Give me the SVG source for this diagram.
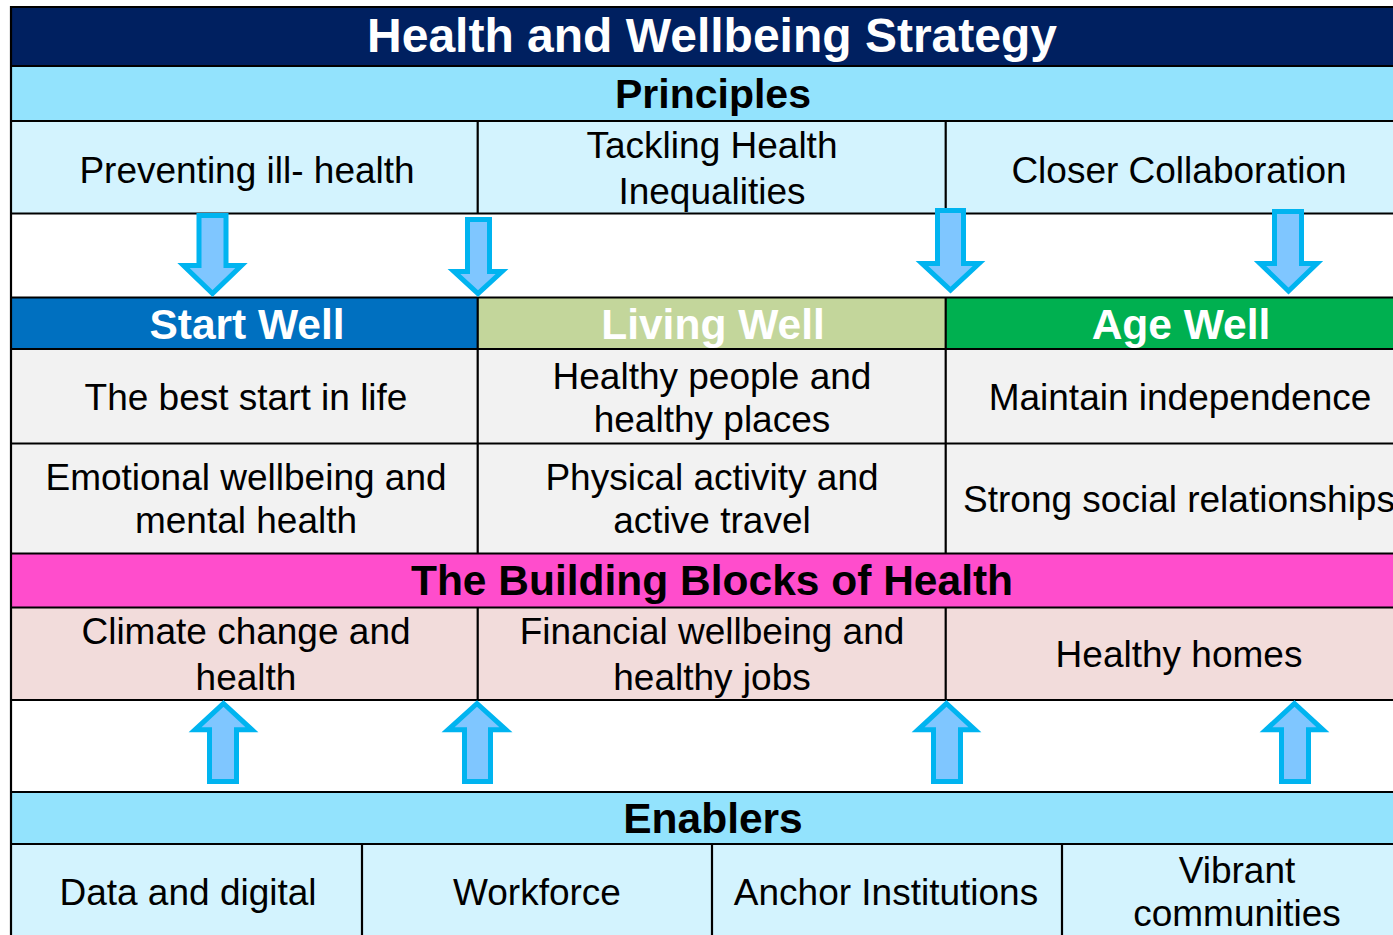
<svg xmlns="http://www.w3.org/2000/svg" width="1393" height="935" viewBox="0 0 1393 935">
<style>
.t{font-family:"Liberation Sans",Arial,sans-serif;font-size:37px;fill:#000;text-anchor:middle}
.h{font-family:"Liberation Sans",Arial,sans-serif;font-size:42.5px;font-weight:bold;text-anchor:middle}
.ln{stroke:#000;stroke-width:2.2;fill:none}
.arr{fill:#7FC6FF;stroke:#00B4F0;stroke-width:5;stroke-linejoin:miter}
</style>
<rect x="0" y="0" width="1393" height="935" fill="#fff"/>
<g id="title">
<rect x="12" y="7" width="1381" height="59" fill="#002060"/>
<text class="h" x="712" y="52" style="font-size:48px;fill:#fff">Health and Wellbeing Strategy</text>
</g>
<g id="principles">
<rect x="12" y="66" width="1381" height="55" fill="#93E3FD"/>
<text class="h" x="713" y="108" style="font-size:41px;fill:#000">Principles</text>
</g>
<g id="p1"><rect x="12" y="121" width="466" height="92" fill="#D3F3FE"/><text class="t" x="247" y="183">Preventing ill- health</text></g>
<g id="p2"><rect x="478" y="121" width="468" height="92" fill="#D3F3FE"/><text class="t" x="712" y="158">Tackling Health</text><text class="t" x="712" y="204">Inequalities</text></g>
<g id="p3"><rect x="946" y="121" width="447" height="92" fill="#D3F3FE"/><text class="t" x="1179" y="183">Closer Collaboration</text></g>
<g id="startwell"><rect x="12" y="297" width="466" height="52" fill="#0070C0"/><text class="h" x="247" y="339" style="fill:#fff">Start Well</text></g>
<g id="livingwell"><rect x="478" y="297" width="468" height="52" fill="#C3D69B"/><text class="h" x="713" y="339" style="fill:#fff">Living Well</text></g>
<g id="agewell"><rect x="946" y="297" width="447" height="52" fill="#00B050"/><text class="h" x="1181" y="339" style="fill:#fff">Age Well</text></g>
<g id="s1"><rect x="12" y="349" width="466" height="94" fill="#F2F2F2"/><text class="t" x="246" y="410">The best start in life</text></g>
<g id="l1"><rect x="478" y="349" width="468" height="94" fill="#F2F2F2"/><text class="t" x="712" y="389">Healthy people and</text><text class="t" x="712" y="432">healthy places</text></g>
<g id="a1"><rect x="946" y="349" width="447" height="94" fill="#F2F2F2"/><text class="t" x="1180" y="410">Maintain independence</text></g>
<g id="s2"><rect x="12" y="443" width="466" height="110" fill="#F2F2F2"/><text class="t" x="246" y="490">Emotional wellbeing and</text><text class="t" x="246" y="533">mental health</text></g>
<g id="l2"><rect x="478" y="443" width="468" height="110" fill="#F2F2F2"/><text class="t" x="712" y="490">Physical activity and</text><text class="t" x="712" y="533">active travel</text></g>
<g id="a2"><rect x="946" y="443" width="447" height="110" fill="#F2F2F2"/><text class="t" x="1179" y="512">Strong social relationships</text></g>
<g id="blocks"><rect x="12" y="553" width="1381" height="54" fill="#FF4DCC"/><text class="h" x="712" y="595" style="fill:#000">The Building Blocks of Health</text></g>
<g id="b1"><rect x="12" y="607" width="466" height="93" fill="#F2DCDB"/><text class="t" x="246" y="644">Climate change and</text><text class="t" x="246" y="690">health</text></g>
<g id="b2"><rect x="478" y="607" width="468" height="93" fill="#F2DCDB"/><text class="t" x="712" y="644">Financial wellbeing and</text><text class="t" x="712" y="690">healthy jobs</text></g>
<g id="b3"><rect x="946" y="607" width="447" height="93" fill="#F2DCDB"/><text class="t" x="1179" y="667">Healthy homes</text></g>
<g id="enablers"><rect x="12" y="792" width="1381" height="53" fill="#93E3FD"/><text class="h" x="713" y="833" style="fill:#000">Enablers</text></g>
<g id="e1"><rect x="12" y="845" width="350" height="90" fill="#D3F3FE"/><text class="t" x="188" y="905">Data and digital</text></g>
<g id="e2"><rect x="362" y="845" width="350" height="90" fill="#D3F3FE"/><text class="t" x="537" y="905">Workforce</text></g>
<g id="e3"><rect x="712" y="845" width="350" height="90" fill="#D3F3FE"/><text class="t" x="886" y="905">Anchor Institutions</text></g>
<g id="e4"><rect x="1062" y="845" width="331" height="90" fill="#D3F3FE"/><text class="t" x="1237" y="883">Vibrant</text><text class="t" x="1237" y="926">communities</text></g>
<g id="gridlines" class="ln">
<path d="M11,6V935"/>
<path d="M10,7H1393M10,66H1393M10,121H1393M10,213.5H1393M10,297.5H1393M10,349H1393M10,443.5H1393M10,553.5H1393M10,607.5H1393M10,700H1393M10,792H1393M10,844H1393"/>
<path d="M477.7,121V213.5M945.7,121V213.5M477.7,297.5V553.5M945.7,297.5V553.5M477.7,607.5V700M945.7,607.5V700M362,844V935M712,844V935M1062,844V935"/>
</g>
<g id="connectors">
<polygon class="arr" points="199,215.5 226,215.5 226,265.5 241.5,265.5 212.5,293.5 183.5,265.5 199,265.5"/>
<polygon class="arr" points="467.5,219.5 489.5,219.5 489.5,271.5 502,271.5 478,293.5 454,271.5 467.5,271.5"/>
<polygon class="arr" points="937.5,210.5 963.5,210.5 963.5,263.5 979,263.5 950.5,290 922,263.5 937.5,263.5"/>
<polygon class="arr" points="1274.5,211.5 1301.5,211.5 1301.5,263.5 1317,263.5 1288.5,291 1260,263.5 1274.5,263.5"/>
<polygon class="arr" points="223.5,703.5 252,729.8 236.5,729.8 236.5,781.5 209.5,781.5 209.5,729.8 195,729.8"/>
<polygon class="arr" points="477,703.5 506,729.8 490.5,729.8 490.5,781.5 464.5,781.5 464.5,729.8 448,729.8"/>
<polygon class="arr" points="946.5,703.5 975,729.8 960.5,729.8 960.5,781.5 933.5,781.5 933.5,729.8 918,729.8"/>
<polygon class="arr" points="1294.5,703.5 1323,729.8 1308.5,729.8 1308.5,781.5 1281.5,781.5 1281.5,729.8 1266,729.8"/>
</g>
</svg>
